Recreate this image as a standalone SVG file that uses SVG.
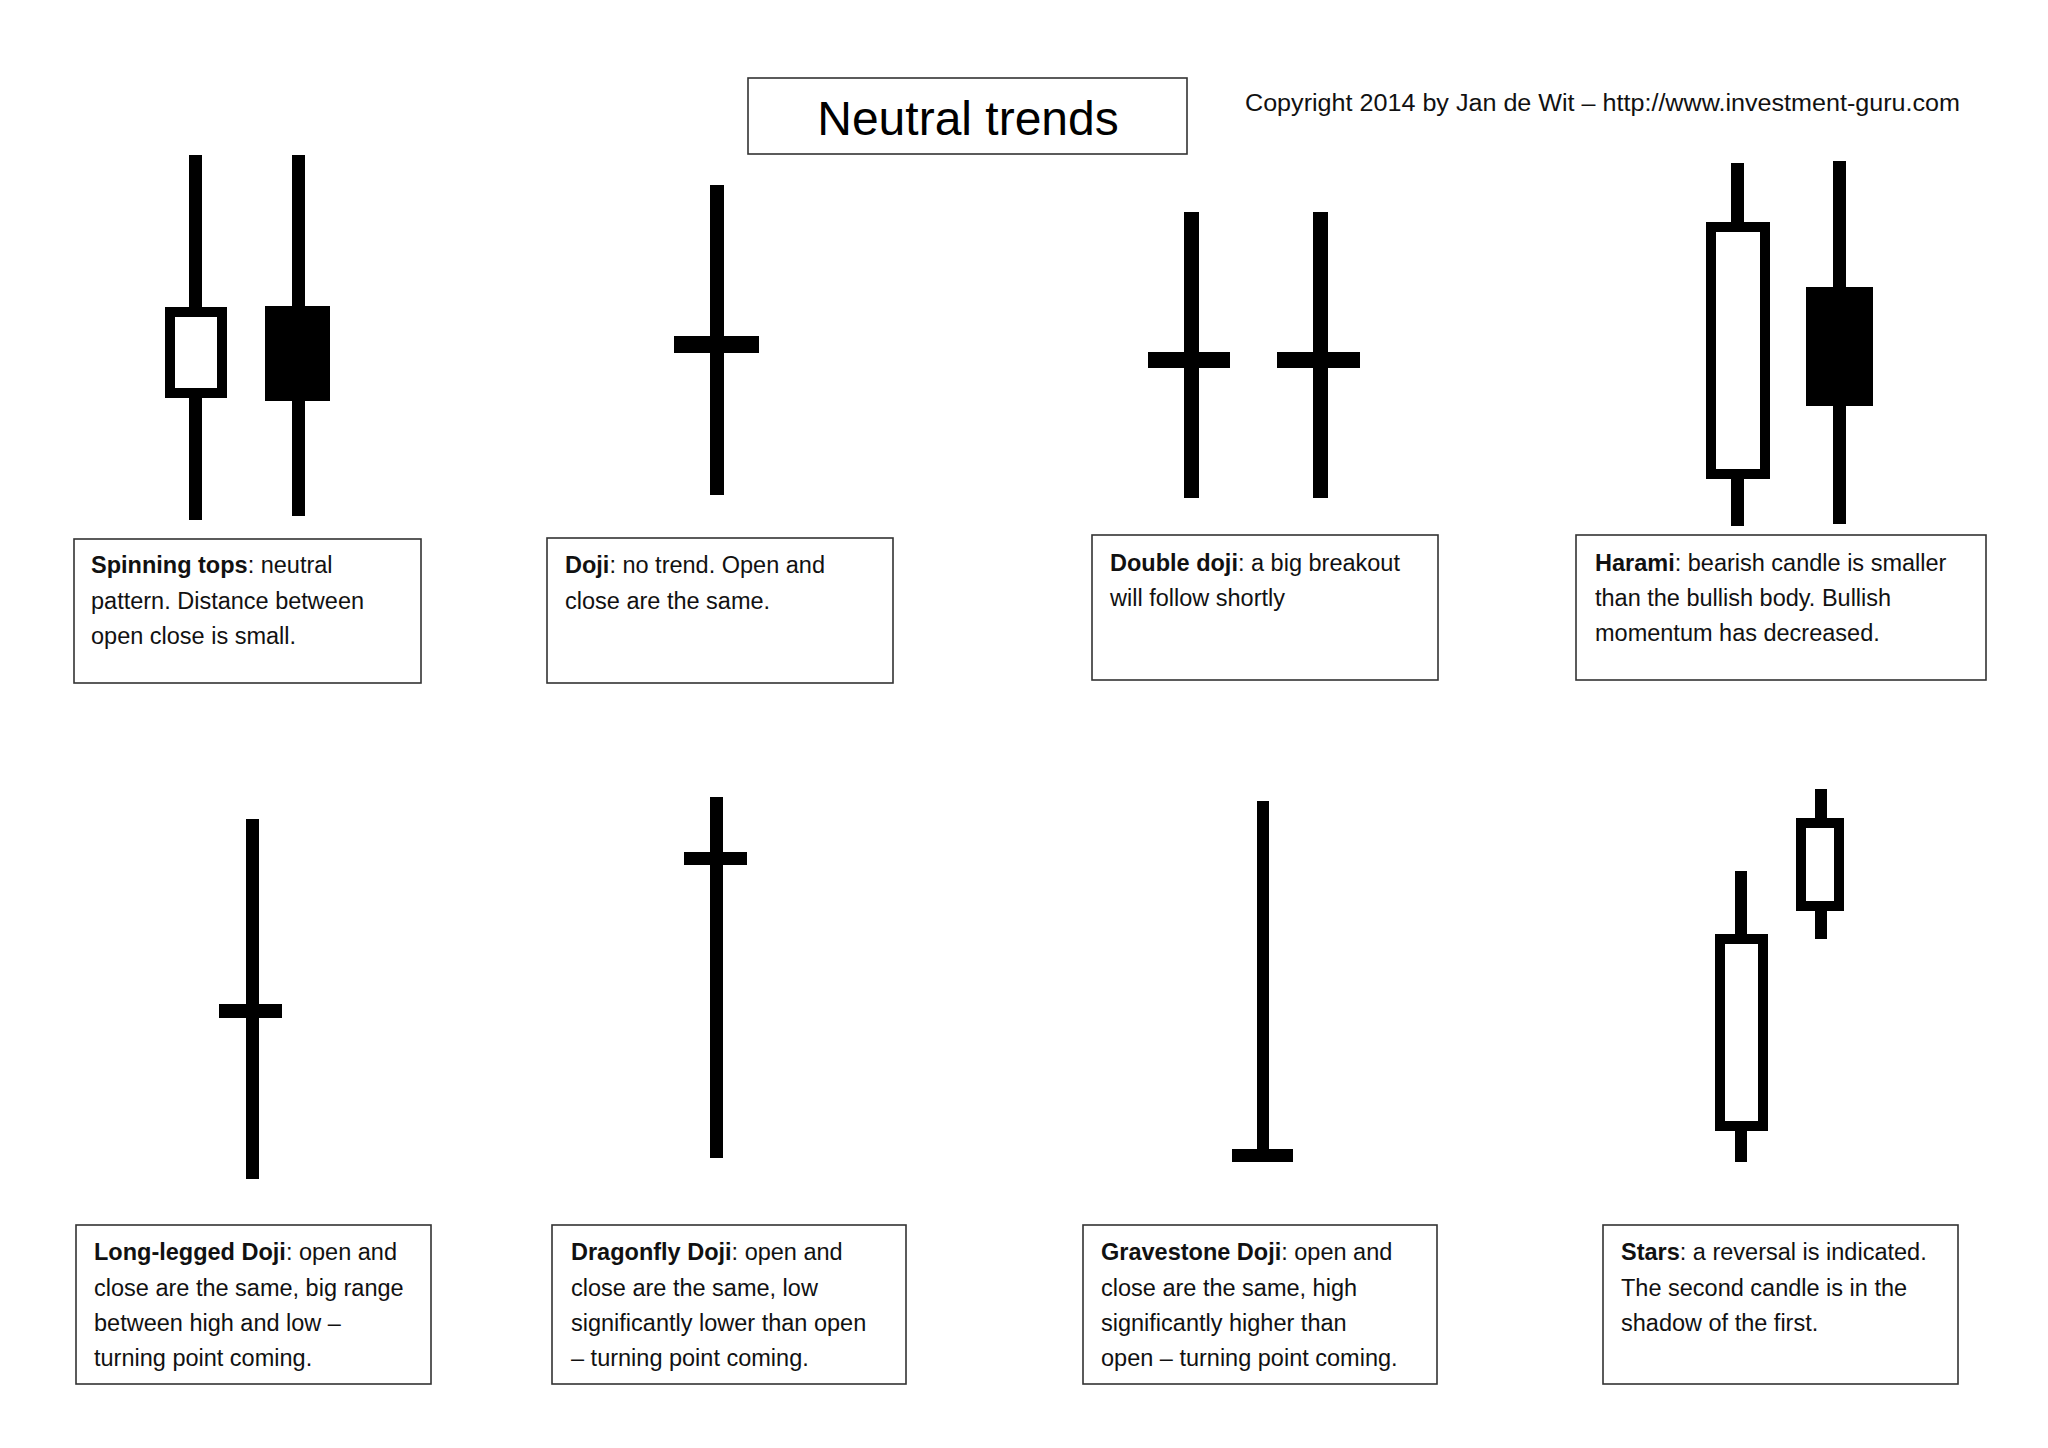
<svg xmlns="http://www.w3.org/2000/svg" width="2048" height="1448" viewBox="0 0 2048 1448">
<style>
.box{fill:#fff;stroke:#333;stroke-width:1.6}
.t{font-family:"Liberation Sans",Arial,sans-serif;font-size:23.5px;fill:#111}
.b{font-weight:bold}
.k{fill:#000}
.o{fill:#fff;stroke:#000;stroke-width:10}
</style>
<rect width="2048" height="1448" fill="#fff"/>
<g id="title"><rect class="box" x="748" y="78" width="439" height="76"/>
<text x="968" y="135" text-anchor="middle" style="font-family:'Liberation Sans',Arial,sans-serif;font-size:48px">Neutral trends</text></g>
<g id="copyright"><text class="t" x="1245" y="111" textLength="715" lengthAdjust="spacingAndGlyphs">Copyright 2014 by Jan de Wit – http://www.investment-guru.com</text></g>

<g id="spinning">
<rect class="k" x="189" y="155" width="13" height="365"/>
<rect class="o" x="170" y="312" width="52" height="81"/>
<rect class="k" x="292" y="155" width="13" height="361"/>
<rect class="k" x="265" y="306" width="65" height="95"/>
<rect class="box" x="74" y="539" width="347" height="144"/>
<text class="t" x="91" y="573"><tspan class="b">Spinning tops</tspan>: neutral</text>
<text class="t" x="91" y="609">pattern. Distance between</text>
<text class="t" x="91" y="644">open close is small.</text>
</g>
<g id="doji">
<rect class="k" x="710" y="185" width="14" height="310"/>
<rect class="k" x="674" y="336" width="85" height="17"/>
<rect class="box" x="547" y="538" width="346" height="145"/>
<text class="t" x="565" y="573"><tspan class="b">Doji</tspan>: no trend. Open and</text>
<text class="t" x="565" y="609">close are the same.</text>
</g>
<g id="doubledoji">
<rect class="k" x="1184" y="212" width="15" height="286"/>
<rect class="k" x="1148" y="352" width="82" height="16"/>
<rect class="k" x="1313" y="212" width="15" height="286"/>
<rect class="k" x="1277" y="352" width="83" height="16"/>
<rect class="box" x="1092" y="535" width="346" height="145"/>
<text class="t" x="1110" y="571"><tspan class="b">Double doji</tspan>: a big breakout</text>
<text class="t" x="1110" y="606">will follow shortly</text>
</g>
<g id="harami">
<rect class="k" x="1731" y="163" width="13" height="363"/>
<rect class="o" x="1711" y="227" width="54" height="247"/>
<rect class="k" x="1833" y="161" width="13" height="363"/>
<rect class="k" x="1806" y="287" width="67" height="119"/>
<rect class="box" x="1576" y="535" width="410" height="145"/>
<text class="t" x="1595" y="571"><tspan class="b">Harami</tspan>: bearish candle is smaller</text>
<text class="t" x="1595" y="606">than the bullish body. Bullish</text>
<text class="t" x="1595" y="641">momentum has decreased.</text>
</g>
<g id="longlegged">
<rect class="k" x="246" y="819" width="13" height="360"/>
<rect class="k" x="219" y="1004" width="63" height="14"/>
<rect class="box" x="76" y="1225" width="355" height="159"/>
<text class="t" x="94" y="1260"><tspan class="b">Long-legged Doji</tspan>: open and</text>
<text class="t" x="94" y="1296">close are the same, big range</text>
<text class="t" x="94" y="1331">between high and low –</text>
<text class="t" x="94" y="1366">turning point coming.</text>
</g>
<g id="dragonfly">
<rect class="k" x="710" y="797" width="13" height="361"/>
<rect class="k" x="684" y="852" width="63" height="13"/>
<rect class="box" x="552" y="1225" width="354" height="159"/>
<text class="t" x="571" y="1260"><tspan class="b">Dragonfly Doji</tspan>: open and</text>
<text class="t" x="571" y="1296">close are the same, low</text>
<text class="t" x="571" y="1331">significantly lower than open</text>
<text class="t" x="571" y="1366">– turning point coming.</text>
</g>
<g id="gravestone">
<rect class="k" x="1257" y="801" width="12" height="355"/>
<rect class="k" x="1232" y="1149" width="61" height="13"/>
<rect class="box" x="1083" y="1225" width="354" height="159"/>
<text class="t" x="1101" y="1260"><tspan class="b">Gravestone Doji</tspan>: open and</text>
<text class="t" x="1101" y="1296">close are the same, high</text>
<text class="t" x="1101" y="1331">significantly higher than</text>
<text class="t" x="1101" y="1366">open – turning point coming.</text>
</g>
<g id="stars">
<rect class="k" x="1735" y="871" width="12" height="291"/>
<rect class="o" x="1720" y="939" width="43" height="187"/>
<rect class="k" x="1815" y="789" width="12" height="150"/>
<rect class="o" x="1801" y="823" width="38" height="83"/>
<rect class="box" x="1603" y="1225" width="355" height="159"/>
<text class="t" x="1621" y="1260"><tspan class="b">Stars</tspan>: a reversal is indicated.</text>
<text class="t" x="1621" y="1296">The second candle is in the</text>
<text class="t" x="1621" y="1331">shadow of the first.</text>
</g>
<g id="connectors"/>
</svg>
